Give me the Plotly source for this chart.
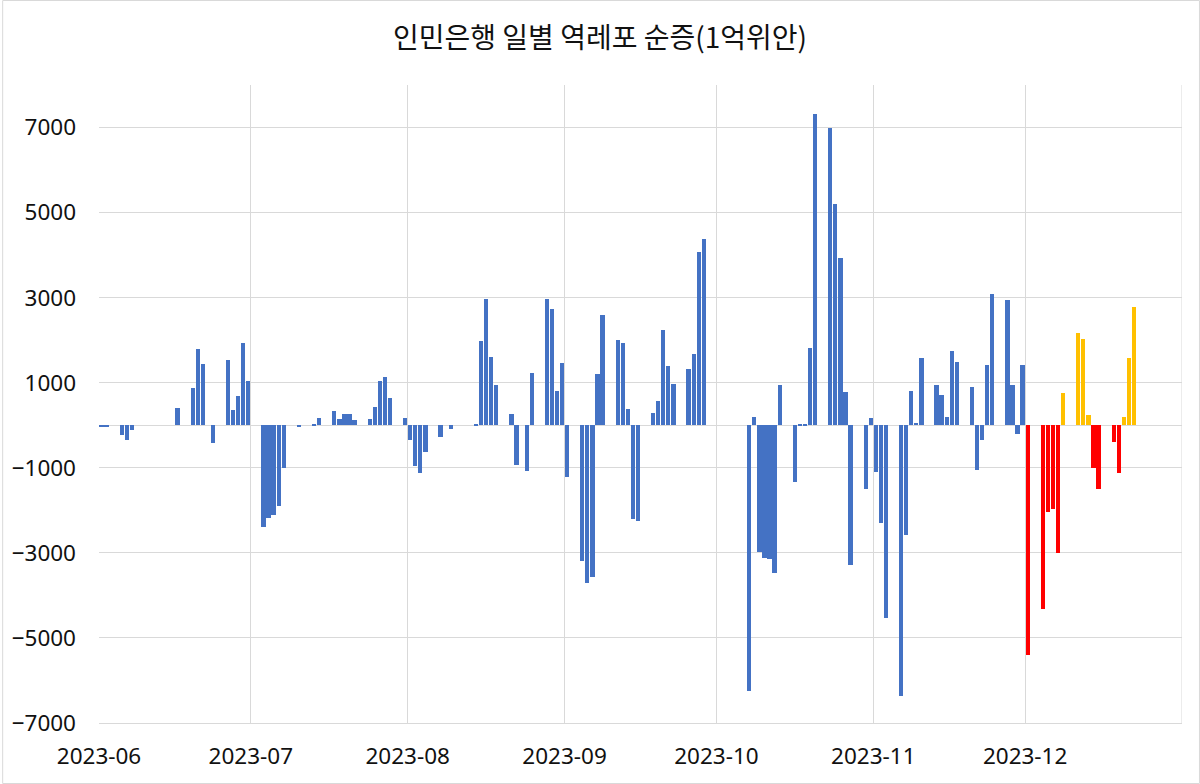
import pandas as pd
import plotly.graph_objects as go

# ---- data (1억위안) ----
dates = [
    "2023-06-01", "2023-06-02", "2023-06-05", "2023-06-06", "2023-06-07", "2023-06-16",
    "2023-06-19", "2023-06-20", "2023-06-21", "2023-06-23", "2023-06-26", "2023-06-27",
    "2023-06-28", "2023-06-29", "2023-06-30",
    "2023-07-03", "2023-07-04", "2023-07-05", "2023-07-06", "2023-07-07", "2023-07-10",
    "2023-07-13", "2023-07-14", "2023-07-17", "2023-07-18", "2023-07-19", "2023-07-20",
    "2023-07-21", "2023-07-24", "2023-07-25", "2023-07-26", "2023-07-27", "2023-07-28",
    "2023-07-31",
    "2023-08-01", "2023-08-02", "2023-08-03", "2023-08-04", "2023-08-07", "2023-08-09",
    "2023-08-14", "2023-08-15", "2023-08-16", "2023-08-17", "2023-08-18", "2023-08-21",
    "2023-08-22", "2023-08-24", "2023-08-25", "2023-08-28", "2023-08-29", "2023-08-30",
    "2023-08-31",
    "2023-09-01", "2023-09-04", "2023-09-05", "2023-09-06", "2023-09-07", "2023-09-08",
    "2023-09-11", "2023-09-12", "2023-09-13", "2023-09-14", "2023-09-15", "2023-09-18",
    "2023-09-19", "2023-09-20", "2023-09-21", "2023-09-22", "2023-09-25", "2023-09-26",
    "2023-09-27", "2023-09-28",
    "2023-10-07", "2023-10-08", "2023-10-09", "2023-10-10", "2023-10-11", "2023-10-12",
    "2023-10-13", "2023-10-16", "2023-10-17", "2023-10-18", "2023-10-19", "2023-10-20",
    "2023-10-23", "2023-10-24", "2023-10-25", "2023-10-26", "2023-10-27", "2023-10-30",
    "2023-10-31",
    "2023-11-01", "2023-11-02", "2023-11-03", "2023-11-06", "2023-11-07", "2023-11-08",
    "2023-11-09", "2023-11-10", "2023-11-13", "2023-11-14", "2023-11-15", "2023-11-16",
    "2023-11-17", "2023-11-20", "2023-11-21", "2023-11-22", "2023-11-23", "2023-11-24",
    "2023-11-27", "2023-11-28", "2023-11-29", "2023-11-30",
    "2023-12-01", "2023-12-04", "2023-12-05", "2023-12-06", "2023-12-07", "2023-12-08",
    "2023-12-11", "2023-12-12", "2023-12-13", "2023-12-14", "2023-12-15", "2023-12-18",
    "2023-12-19", "2023-12-20", "2023-12-21", "2023-12-22",
]

values = [
    -30, -20, -220, -350, -100, 400,
    865, 1800, 1440, -425, 1545, 370,
    680, 1935, 1035,
    -2400, -2180, -2120, -1890, -1000, -40,
    30, 180, 335, 150, 260, 260,
    135, 150, 440, 1035, 1145, 645,
    175,
    -355, -950, -1115, -630, -275, -80,
    30, 1970, 2975, 1615, 950, 260,
    -925, -1075, 1225, 2975, 2730, 800,
    1460,
    -1210, -3195, -3710, -3560, 1195, 2600,
    2010, 1940, 375, -2200, -2240, 280,
    580, 2250, 1405, 970, 1330, 1680,
    4085, 4385,
    -6240, 200, -2990, -3110, -3155, -3470,
    940, -1345, 25, 25, 1810, 7320,
    7000, 5200, 3930, 780, -3275, -1500,
    180,
    -1090, -2295, -4535, -6365, -2575, 810,
    55, 1590, 940, 710, 200, 1735,
    1480, 905, -1050, -350, 1410, 3090,
    2940, 940, -215, 1420,
    -5410, -4320, -2040, -1970, -2995, 755,
    2160, 2035, 250, -1015, -1490, -405,
    -1130, 195, 1575, 2790,
]

title_text = "인민은행 일별 역레포 순증(1억위안)"
month_ticks = ["2023-06-01", "2023-07-01", "2023-08-01", "2023-09-01",
               "2023-10-01", "2023-11-01", "2023-12-01"]
y_ticks = [-7000, -5000, -3000, -1000, 1000, 3000, 5000, 7000]
x_start, x_end = "2023-06-01", "2024-01-01"
highlight_from = "2023-12-01"

# ---- styling ----
BLUE, RED, YELLOW = "#4472C4", "#FF0000", "#FFC000"
GRID = "#D9D9D9"
TICK_FONT = dict(family="Noto Sans, Open Sans, sans-serif", size=22.5, color="#111111")

dt = pd.to_datetime(dates)
hl = pd.Timestamp(highlight_from)
colors = [BLUE if d < hl else (RED if v < 0 else YELLOW) for d, v in zip(dt, values)]

fig = go.Figure(
    go.Bar(
        x=dates,
        y=values,
        marker=dict(color=colors, line=dict(width=0)),
        width=0.84 * 86400000,
        xperiod=86400000,
        xperiodalignment="middle",
        hovertemplate="%{x|%Y-%m-%d}: %{y}<extra></extra>",
    )
)

W, H = 1200, 784
L, R, T, B = 97, 18, 85, 61
pw, ph = W - L - R, H - T - B

fig.update_layout(
    width=W,
    height=H,
    margin=dict(l=L, r=R, t=T, b=B),
    paper_bgcolor="white",
    plot_bgcolor="white",
    showlegend=False,
    bargap=0,
    title=dict(
        text=title_text,
        x=0.5, xref="container", xanchor="center",
        y=1 - 38 / H, yref="container", yanchor="middle",
        font=dict(family="Noto Sans CJK KR, sans-serif", size=28, color="#111111"),
    ),
    xaxis=dict(
        type="date",
        range=[x_start, x_end],
        tickvals=month_ticks,
        tickformat="%Y-%m",
        showgrid=True,
        gridcolor=GRID,
        gridwidth=1,
        ticks="",
        ticklabelstandoff=13,
        tickfont=TICK_FONT,
        showline=True,
        linecolor=GRID,
        linewidth=1,
        zeroline=False,
        fixedrange=True,
    ),
    yaxis=dict(
        range=[-7000, 8000],
        tickvals=y_ticks,
        showgrid=True,
        gridcolor=GRID,
        gridwidth=1,
        zeroline=True,
        zerolinecolor=GRID,
        zerolinewidth=1,
        ticks="",
        ticklabelstandoff=22,
        tickfont=TICK_FONT,
        showline=False,
        fixedrange=True,
    ),
    shapes=[
        # month gridline at the end of the date range
        dict(type="line", xref="x", yref="paper", x0=x_end, x1=x_end, y0=0, y1=1,
             line=dict(color=GRID, width=1), layer="below"),
        # outer chart border
        dict(type="rect", xref="paper", yref="paper",
             x0=(0.5 - L) / pw, x1=(W - 0.5 - L) / pw,
             y0=-(B - 0.5) / ph, y1=1 + (T - 0.5) / ph,
             line=dict(color=GRID, width=1), fillcolor="rgba(0,0,0,0)", layer="below"),
    ],
)

fig.write_html("out.html")
